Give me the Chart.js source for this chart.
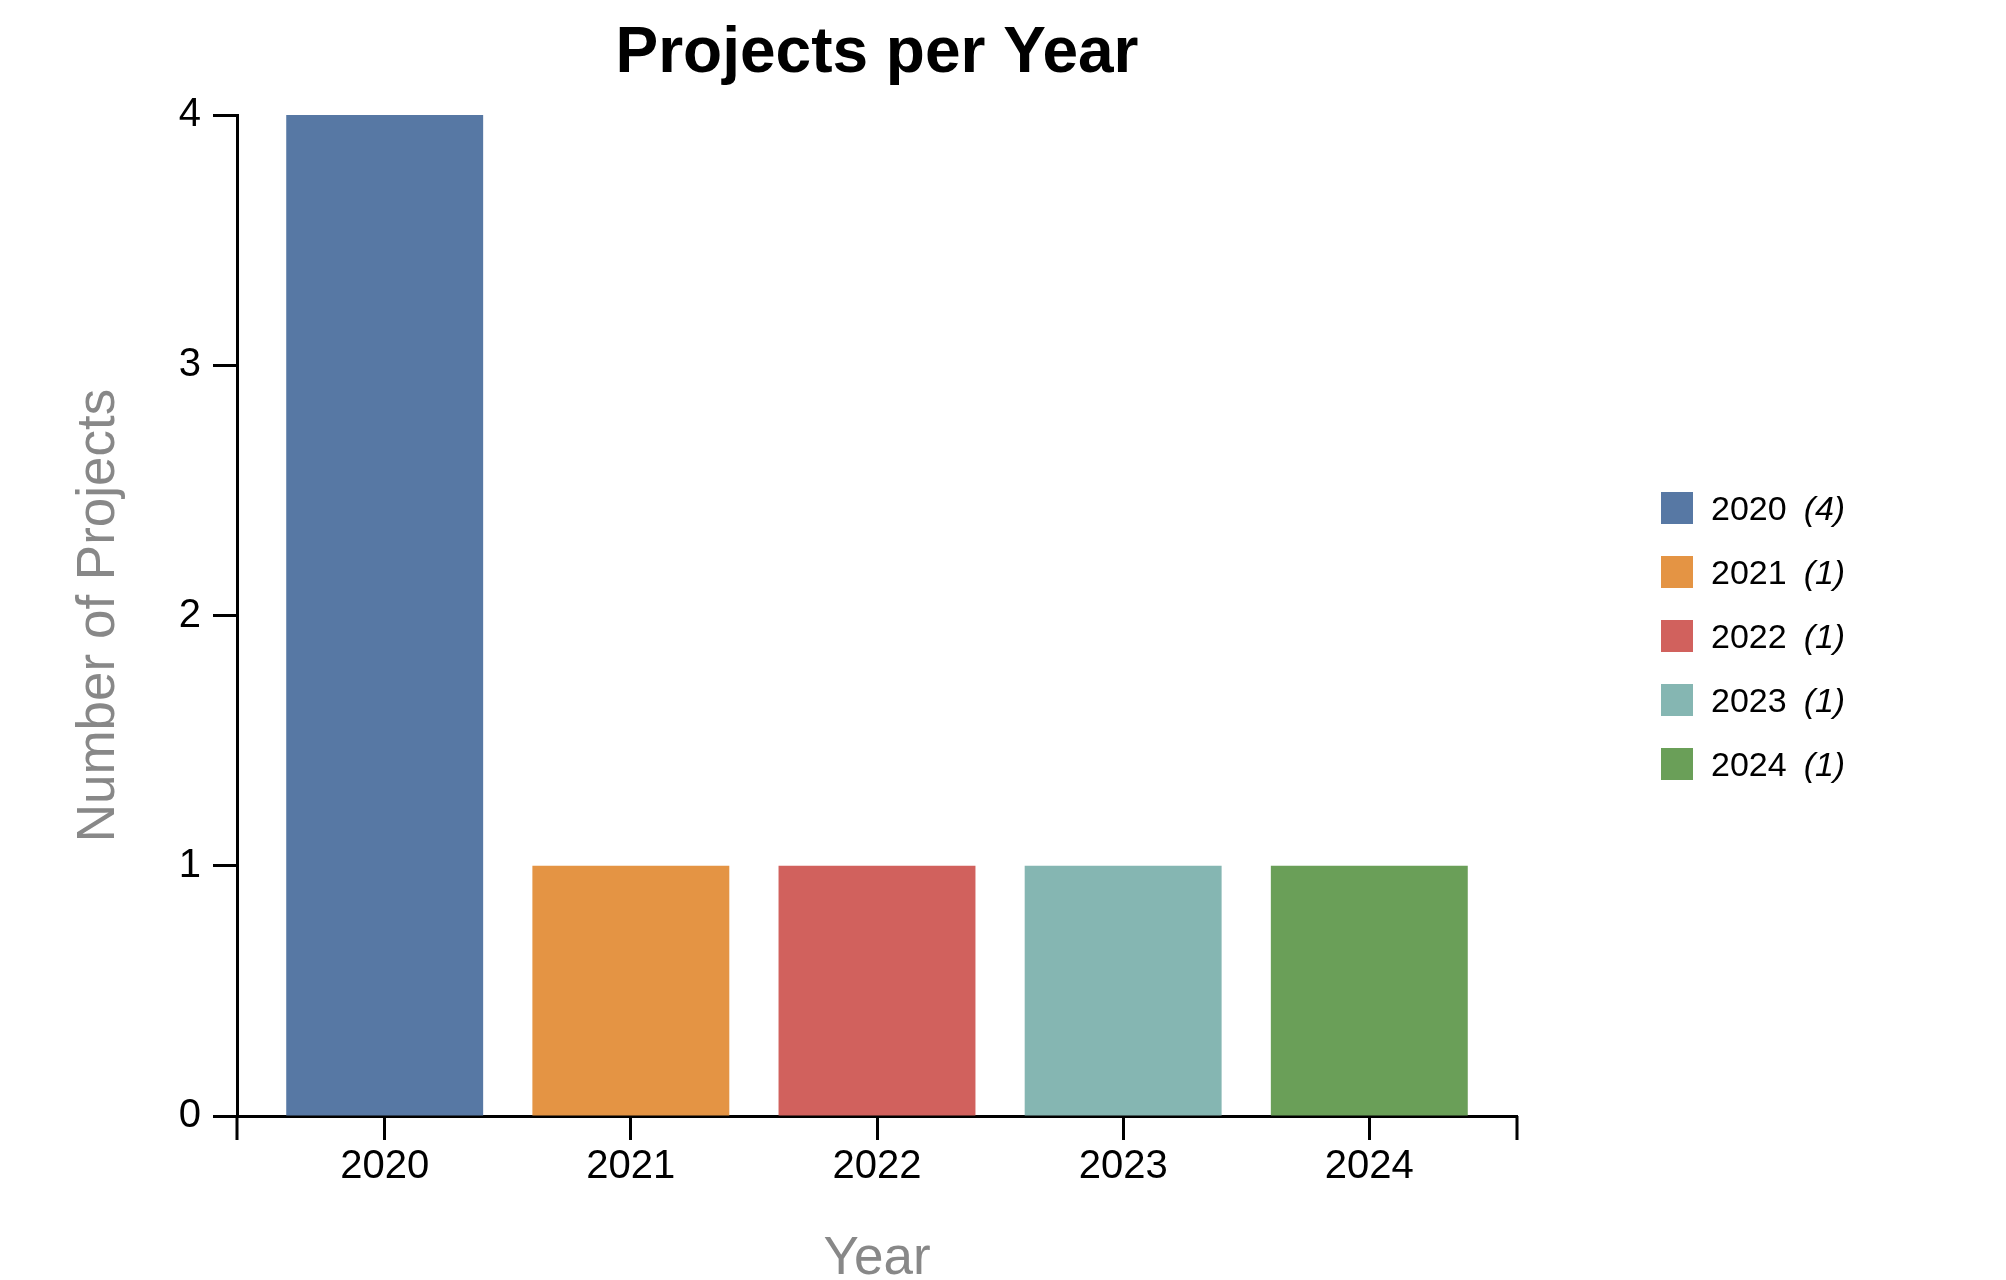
<!DOCTYPE html>
<html><head><meta charset="utf-8">
<script src="https://cdn.jsdelivr.net/npm/chart.js@4/dist/chart.umd.min.js"></script>
<style>
html,body{margin:0;padding:0;background:#fff;}
#wrap{position:relative;width:2006px;height:1280px;}
#legend{position:absolute;left:1661px;top:492px;font-family:'Liberation Sans',Arial,sans-serif;font-size:34px;color:#000;}
.row{display:flex;align-items:center;height:32px;margin-bottom:32px;white-space:nowrap;}
.sw{width:32px;height:32px;margin-right:18px;flex:none;}
.cnt{font-style:italic;margin-left:17px;}
</style></head><body>
<div id="wrap"><canvas id="c" width="2006" height="1280"></canvas><div id="legend"></div></div>
<script>
const years = ['2020', '2021', '2022', '2023', '2024'];
const counts = [4, 1, 1, 1, 1];
const colors = ['#5778a4', '#e49444', '#d1615d', '#85b6b2', '#6a9f58'];
const yTicks = [0, 1, 2, 3, 4];

Chart.defaults.font.family = "'Liberation Sans', Arial, sans-serif";

const PAD = 0.6; // band padding (category units) on each side
const TICK_LEN = 24;

// outer ticks at both ends of the x-axis domain line
const domainEnds = {
  id: 'domainEnds',
  afterDraw(chart) {
    const s = chart.scales.x, ctx = chart.ctx;
    ctx.save();
    ctx.strokeStyle = '#000';
    ctx.lineWidth = 3;
    ctx.beginPath();
    [s.left, s.right].forEach(x => {
      ctx.moveTo(x, s.top);
      ctx.lineTo(x, s.top + TICK_LEN);
    });
    ctx.stroke();
    ctx.restore();
  }
};

new Chart(document.getElementById('c'), {
  type: 'bar',
  data: {
    datasets: [{
      data: years.map((y, i) => ({ x: i, y: counts[i] })),
      backgroundColor: colors,
      borderWidth: 0,
      barPercentage: 0.8,
      categoryPercentage: 1.0
    }]
  },
  plugins: [domainEnds],
  options: {
    responsive: false, animation: false, devicePixelRatio: 1,
    layout: { padding: { left: 0, right: 489, top: 0, bottom: 0 } },
    plugins: {
      legend: { display: false }, tooltip: { enabled: false },
      title: { display: true, text: 'Projects per Year', fullSize: false, color: '#000',
        font: { size: 64, weight: 'bold', lineHeight: 1.2 }, padding: { top: 16, bottom: 22.2 } }
    },
    scales: {
      x: {
        type: 'linear', min: -PAD, max: years.length - 1 + PAD, offset: false,
        afterBuildTicks: s => { s.ticks = years.map((_, i) => ({ value: i })); },
        afterFit: s => { s.height = 164; },
        grid: { display: true, offset: false, drawOnChartArea: false, drawTicks: true, tickLength: TICK_LEN, tickWidth: 3, tickColor: '#000' },
        border: { display: true, color: '#000', width: 3 },
        ticks: { color: '#000', font: { size: 40 }, padding: 3, maxRotation: 0, autoSkip: false,
          callback: v => years[v] },
        title: { display: true, text: 'Year', color: '#888', font: { size: 53, lineHeight: 1 }, padding: { top: 0, bottom: -6 } }
      },
      y: {
        min: 0, max: 4,
        afterBuildTicks: s => { s.ticks = yTicks.map(v => ({ value: v })); },
        afterFit: s => { s.width = 237; },
        grid: { drawOnChartArea: false, drawTicks: true, tickLength: TICK_LEN, tickWidth: 3, tickColor: '#000' },
        border: { display: true, color: '#000', width: 3 },
        ticks: { color: '#000', font: { size: 40 }, padding: 12 },
        title: { display: true, text: 'Number of Projects', color: '#888', font: { size: 53, lineHeight: 1.2 }, padding: { top: 68, bottom: 0 } }
      }
    }
  }
});

const legend = document.getElementById('legend');
years.forEach((y, i) => {
  const row = document.createElement('div');
  row.className = 'row';
  const sw = document.createElement('div');
  sw.className = 'sw';
  sw.style.background = colors[i];
  const t = document.createElement('span');
  t.textContent = y;
  const c = document.createElement('span');
  c.className = 'cnt';
  c.textContent = '(' + counts[i] + ')';
  row.append(sw, t, c);
  legend.appendChild(row);
});
</script>
</body></html>
